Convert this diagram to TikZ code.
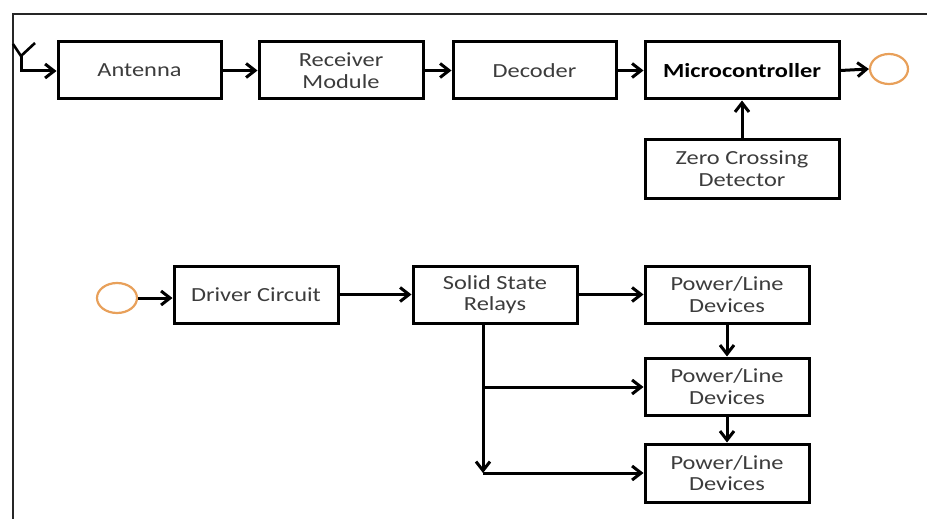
\documentclass[tikz,border=0pt]{standalone}
\usepackage{fontspec}
\setmainfont{Carlito}[FakeStretch=1.22]
\usetikzlibrary{arrows.meta,shapes.geometric}
\definecolor{txtgray}{RGB}{60,60,60}
\definecolor{ringorange}{RGB}{232,160,90}
\begin{document}
\begin{tikzpicture}[x=1pt,y=-1pt,
  blk/.style={draw=black, line width=3pt, inner sep=0pt, align=center,
    font=\fontsize{20}{21.5}\selectfont, text=txtgray},
  conn/.style={line width=3pt, draw=black, -{Straight Barb[length=9pt,width=14pt]}},
  wire/.style={line width=2.6pt, draw=black},
  ring/.style={draw=ringorange, line width=2.2pt, ellipse, fill=white, inner sep=0pt},
  frameline/.style={line width=2.8pt, draw=black!85}]
\useasboundingbox (0,0) rectangle (927,519);
% frame
\coordinate (fr) at (927,14);
\coordinate (ftl) at (13,14);
\coordinate (fbl) at (13,519);
\draw[frameline] (fbl) -- (ftl) -- (fr);
% antenna symbol
\coordinate (yv) at (21,56);
\coordinate (yl) at (13,44);
\coordinate (yr) at (35,43);
\coordinate (ys) at (21,71);
\draw[wire] (yl) -- (yv) -- (yr);
% top row
\node[blk, minimum width=163pt, minimum height=57pt] (ant) at (139.5,70.5) {Antenna};
\node[blk, minimum width=164pt, minimum height=57pt] (rx) at (341,70.5) {Receiver\\Module};
\node[blk, minimum width=163pt, minimum height=57pt] (dec) at (534.5,70.5) {Decoder};
\node[blk, minimum width=194pt, minimum height=57pt, text=black, font=\fontsize{20}{21.5}\selectfont\bfseries] (mcu) at (742,70.5) {Microcontroller};
\node[blk, minimum width=194pt, minimum height=59pt] (zcd) at (742,168.5) {Zero Crossing\\Detector};
\node[ring, minimum width=38pt, minimum height=30pt] (c1) at (889,69) {};
\draw[conn] (yv) -- (ys) -- (ant.west |- ys);
\draw[conn] (ant) -- (rx);
\draw[conn] (rx) -- (dec);
\draw[conn] (dec) -- (mcu);
\draw[conn] (mcu.east) -- (c1.west);
\draw[conn] (zcd) -- (mcu);
% bottom part
\node[ring, minimum width=40pt, minimum height=30pt] (c2) at (117,298) {};
\node[blk, minimum width=164pt, minimum height=57pt] (drv) at (256,294.5) {Driver Circuit};
\node[blk, minimum width=164pt, minimum height=57pt] (ssr) at (495,294.5) {Solid State\\Relays};
\node[blk, minimum width=164pt, minimum height=57pt] (pl1) at (727,294.5) {Power/Line\\Devices};
\node[blk, minimum width=164pt, minimum height=57pt] (pl2) at (727,386.5) {Power/Line\\Devices};
\node[blk, minimum width=164pt, minimum height=58pt] (pl3) at (727,473) {Power/Line\\Devices};
\coordinate (ssrx) at (483,323);
\coordinate (br1) at (483,387);
\coordinate (br2) at (483,473);
\draw[conn] (c2.east) -- (drv.west |- c2.east);
\draw[conn] (drv) -- (ssr);
\draw[conn] (ssr) -- (pl1);
\draw[conn] (pl1) -- (pl2);
\draw[conn] (pl2) -- (pl3);
\draw[conn] (ssr.south -| ssrx) -- (br2);
\draw[conn] (br1) -- (pl2.west |- br1);
\draw[conn] (br2) -- (pl3.west |- br2);
\end{tikzpicture}
\end{document}
